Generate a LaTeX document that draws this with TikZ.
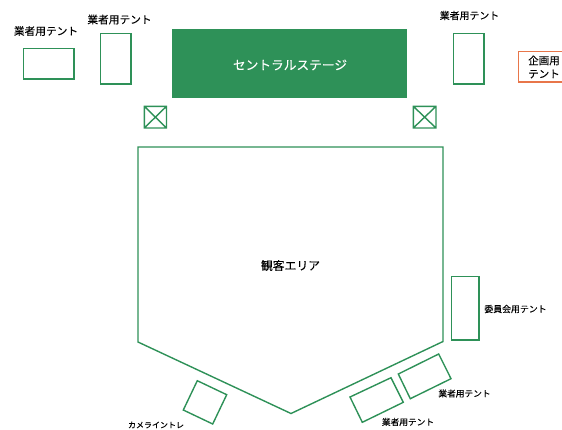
\documentclass[tikz,border=0pt]{standalone}
\usepackage{fontspec}
\setmainfont{Noto Sans CJK JP}[FakeBold=0.12]
\definecolor{gr}{HTML}{2E9158}
\definecolor{org}{HTML}{E8764A}
\tikzset{
  x=1pt,y=-1pt,
  tent/.style={draw=gr,line width=1.4pt,line join=miter},
  lab/.style={inner sep=0pt,text=black,align=center},
}
\newcommand{\fs}[1]{\fontsize{#1}{#1}\selectfont}
\begin{document}
\begin{tikzpicture}
\useasboundingbox (0,0) rectangle (562,429);
\clip (0,0) rectangle (562,429);
\draw[tent] (23.3,48.3) rectangle (74,79);
\draw[tent] (100.3,33.3) rectangle (131,84);
\draw[tent] (453.3,33.3) rectangle (484,84);
\draw[draw=org,line width=1.4pt] (518.3,51.3) rectangle (570,82);
\fill[gr] (172,29) rectangle (407,98);
\node[lab,text=white] (stage) at (290,65) {\fs{12.7}セントラルステージ};
\draw[tent] (144.3,106.3) rectangle (166.5,128) (144.3,106.3) -- (166.5,128) (144.3,128) -- (166.5,106.3);
\draw[tent] (413.3,106.3) rectangle (436,128) (413.3,106.3) -- (436,128) (413.3,128) -- (436,106.3);
\draw[tent] (138,147) -- (443,147) -- (443,341.5) -- (291,413.5) -- (138,342) -- cycle;
\draw[tent] (451.3,276.3) rectangle (479,340);
\draw[tent] (398.3,374) -- (438.7,354) -- (451,378.7) -- (410.3,398.7) -- cycle;
\draw[tent] (350,397) -- (391,377.7) -- (403.3,402.3) -- (362.3,422.3) -- cycle;
\draw[tent] (197.3,380.7) -- (226.7,394.7) -- (212.7,424) -- (183.3,410) -- cycle;
\node[lab] (l1) at (46,31) {\fs{10.7}業者用テント};
\node[lab] (l2) at (119.5,19.5) {\fs{10.7}業者用テント};
\node[lab] (l3) at (469.5,15.5) {\fs{9.9}業者用テント};
\node[lab] (l4) at (544,60.5) {\fs{10.5}企画用};
\node[lab] (l5) at (544,74) {\fs{10.5}テント};
\node[lab] (l6) at (290.5,265.5) {\fs{11.8}観客エリア};
\node[lab] (l7) at (515.5,309) {\fs{8.9}委員会用テント};
\node[lab] (l8) at (464.5,393.5) {\fs{8.7}業者用テント};
\node[lab] (l9) at (408,422) {\fs{8.7}業者用テント};
\node[lab] (l10) at (156,425) {\fs{8}カメライントレ};
\end{tikzpicture}
\end{document}
